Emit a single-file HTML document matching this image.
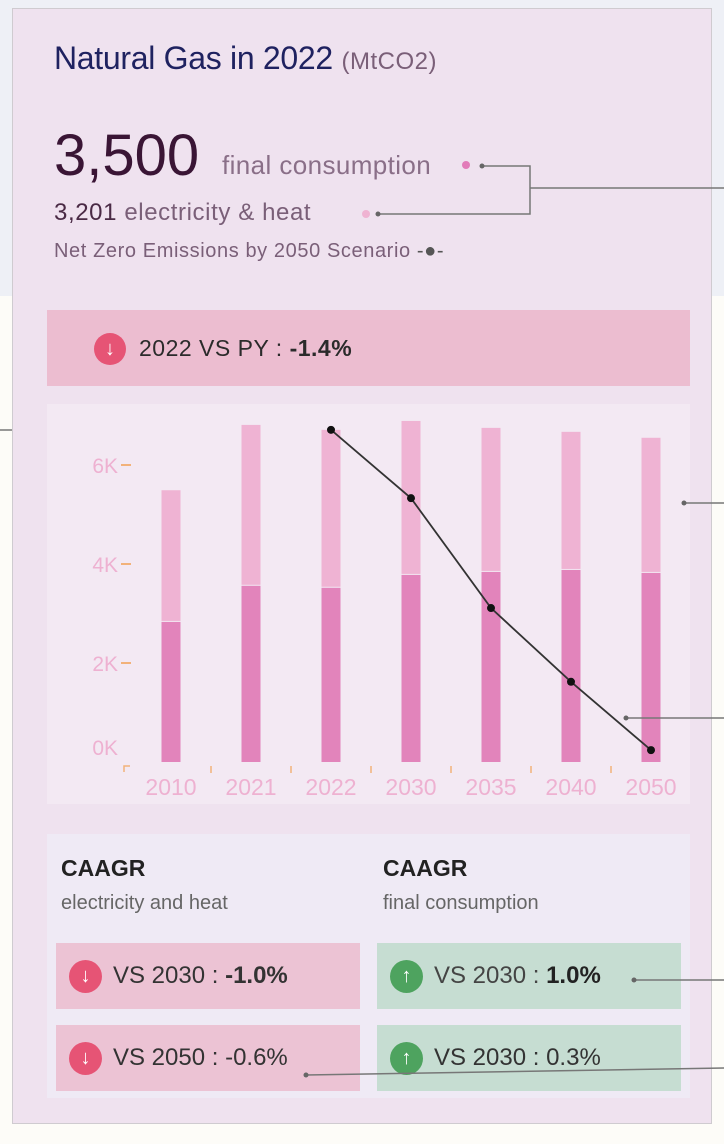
<!DOCTYPE html>
<html><head><meta charset="utf-8"><style>
*{margin:0;padding:0;box-sizing:border-box}
body{width:724px;height:1144px;position:relative;overflow:hidden;background:#fdfcf8;font-family:"Liberation Sans","DejaVu Sans",sans-serif}
.abs{position:absolute}
.t{white-space:nowrap}
</style></head><body>
<div class="abs" style="left:0;top:0;width:724px;height:296px;background:#eef0f6"></div>
<div class="abs" style="left:12px;top:8px;width:700px;height:1116px;background:#efe2ef;border:1.5px solid #cfcbd0"></div>
<div class="abs t" style="left:54px;top:40px;font-size:32px;color:#1f2260;letter-spacing:-0.3px">Natural Gas in 2022 <span style="font-size:24px;color:#7a5f78;letter-spacing:0.5px">(MtCO2)</span></div>
<div class="abs t" style="left:54px;top:122px;font-size:58px;color:#3a1535">3,500</div>
<div class="abs t" style="left:222px;top:150px;font-size:26px;color:#8a6f88;letter-spacing:0.4px">final consumption</div>
<div class="abs" style="left:462px;top:161px;width:8px;height:8px;border-radius:50%;background:#e27cb9"></div>
<div class="abs t" style="left:54px;top:199px;font-size:24px;color:#7a5f78;letter-spacing:0.6px"><b style="font-weight:normal;color:#4a2a45">3,201</b> electricity &amp; heat</div>
<div class="abs" style="left:362px;top:210px;width:8px;height:8px;border-radius:50%;background:#efb3d2"></div>
<div class="abs t" style="left:54px;top:240px;font-size:20px;color:#7a5f78;letter-spacing:0.6px">Net Zero Emissions by 2050 Scenario <span style="color:#555">-●-</span></div>
<div class="abs" style="left:47px;top:310px;width:643px;height:76px;background:#ecbdd0"></div>
<div class="abs" style="left:94px;top:333px;width:32px;height:32px;border-radius:50%;background:#e65475;color:#fff;font-size:20px;text-align:center;line-height:32px;font-weight:bold">↓</div>
<div class="abs t" style="left:139px;top:335px;font-size:23px;color:#2b2b2b;letter-spacing:0.5px">2022 VS PY : <b>-1.4%</b></div>
<svg class="abs" id="chart" style="left:47px;top:404px;background:#f3e9f3" width="643" height="400"></svg>
<div class="abs" style="left:47px;top:834px;width:643px;height:264px;background:#efeaf5"></div>
<div class="abs t" style="left:61px;top:855px;font-size:23px;font-weight:bold;color:#222">CAAGR</div>
<div class="abs t" style="left:61px;top:892px;font-size:20px;color:#666">electricity and heat</div>
<div class="abs t" style="left:383px;top:855px;font-size:23px;font-weight:bold;color:#222">CAAGR</div>
<div class="abs t" style="left:383px;top:892px;font-size:20px;color:#666">final consumption</div>
<div class="abs" style="left:56px;top:943px;width:304px;height:66px;background:#ecc3d4"></div>
<div class="abs" style="left:56px;top:1025px;width:304px;height:66px;background:#ecc3d4"></div>
<div class="abs" style="left:377px;top:943px;width:304px;height:66px;background:#c6ddd2"></div>
<div class="abs" style="left:377px;top:1025px;width:304px;height:66px;background:#c6ddd2"></div>
<div class="abs" style="left:69px;top:960px;width:33px;height:33px;border-radius:50%;background:#e65475;color:#fff;font-size:20px;text-align:center;line-height:33px;font-weight:bold">↓</div>
<div class="abs" style="left:69px;top:1042px;width:33px;height:33px;border-radius:50%;background:#e65475;color:#fff;font-size:20px;text-align:center;line-height:33px;font-weight:bold">↓</div>
<div class="abs" style="left:390px;top:960px;width:33px;height:33px;border-radius:50%;background:#4ea35f;color:#fff;font-size:20px;text-align:center;line-height:33px;font-weight:bold">↑</div>
<div class="abs" style="left:390px;top:1042px;width:33px;height:33px;border-radius:50%;background:#4ea35f;color:#fff;font-size:20px;text-align:center;line-height:33px;font-weight:bold">↑</div>
<div class="abs t" style="left:113px;top:962px;font-size:24px;color:#333">VS 2030 : <b>-1.0%</b></div>
<div class="abs t" style="left:113px;top:1044px;font-size:24px;color:#333">VS 2050 : -0.6%</div>
<div class="abs t" style="left:434px;top:962px;font-size:24px;color:#444">VS 2030 : <b style="color:#222">1.0%</b></div>
<div class="abs t" style="left:434px;top:1044px;font-size:24px;color:#333">VS 2030 : 0.3%</div>
<svg class="abs" style="left:0;top:0;z-index:5" width="724" height="1144">
<g stroke="#777" stroke-width="1.5" fill="none">
<polyline points="482,166 530,166 530,214 378,214"/><line x1="530" y1="188" x2="724" y2="188"/>
<line x1="0" y1="430" x2="12" y2="430"/>
<line x1="684" y1="503" x2="724" y2="503"/>
<line x1="626" y1="718" x2="724" y2="718"/>
<line x1="634" y1="980" x2="724" y2="980"/>
<line x1="306" y1="1075" x2="724" y2="1068"/>
</g>
<g fill="#666"><circle cx="482" cy="166" r="2.5"/><circle cx="378" cy="214" r="2.5"/><circle cx="684" cy="503" r="2.5"/><circle cx="626" cy="718" r="2.5"/><circle cx="634" cy="980" r="2.5"/><circle cx="306" cy="1075" r="2.5"/></g>
</svg>
<script>
const years=["2010","2021","2022","2030","2035","2040","2050"];
const elecHeat=[2.83,3.56,3.52,3.78,3.84,3.88,3.82];
const totals=[5.49,6.81,6.71,6.89,6.75,6.67,6.55];
const nzeYears=["2022","2030","2035","2040","2050"];
const nzeValues=[6.71,5.33,3.11,1.62,0.24];
const yTicks=[0,2,4,6];
const yTickLabels=["0K","2K","4K","6K"];
const svg=document.getElementById('chart');
const NS="http://www.w3.org/2000/svg";
const y0=358,perK=49.5,x0=124,step=80,bw=19;
const y=v=>y0-v*perK;
const x=i=>x0+i*step;
function mk(t,a){const e=document.createElementNS(NS,t);for(const k in a)e.setAttribute(k,a[k]);svg.appendChild(e);return e;}
yTicks.forEach((v,i)=>{
 const tx=mk('text',{x:71,y:y(v)+(v===0?-7:8),'text-anchor':'end','font-size':21,fill:'#eeb1d1','font-family':'Liberation Sans, sans-serif'});
 tx.textContent=yTickLabels[i];
 
 
 if(v>0){const l=mk('line',{x1:74,x2:84,y1:y(v),y2:y(v),stroke:'#f2b27a','stroke-width':2});
 
 }
});
years.forEach((yr,i)=>{
 const cx=x(i);
 const r1=mk('rect',{x:cx-bw/2,y:y(totals[i]),width:bw,height:(totals[i]-elecHeat[i])*perK-1,fill:'#efb3d3'});
 
 
 const r2=mk('rect',{x:cx-bw/2,y:y(elecHeat[i]),width:bw,height:elecHeat[i]*perK,fill:'#e284bb'});
 
 
 const t=mk('text',{x:cx,y:391,'text-anchor':'middle','font-size':23,fill:'#eeb1d1','font-family':'Liberation Sans, sans-serif'});
 t.textContent=yr;
 
 
 const tk=mk('line',{x1:cx+step/2,x2:cx+step/2,y1:362,y2:369,stroke:'#f2b27a','stroke-width':1.5});
 
 
});
mk('path',{d:'M77 368 V362 H83',stroke:'#f2b27a','stroke-width':1.5,fill:'none'});
const pts=nzeYears.map((yr,i)=>[x(years.indexOf(yr)),y(nzeValues[i])]);
const pl=mk('polyline',{points:pts.map(p=>p.join(',')).join(' '),fill:'none',stroke:'#333','stroke-width':1.8});


pts.forEach((p,i)=>{const c=mk('circle',{cx:p[0],cy:p[1],r:4,fill:'#111'});
 
 });
</script>
</body></html>
